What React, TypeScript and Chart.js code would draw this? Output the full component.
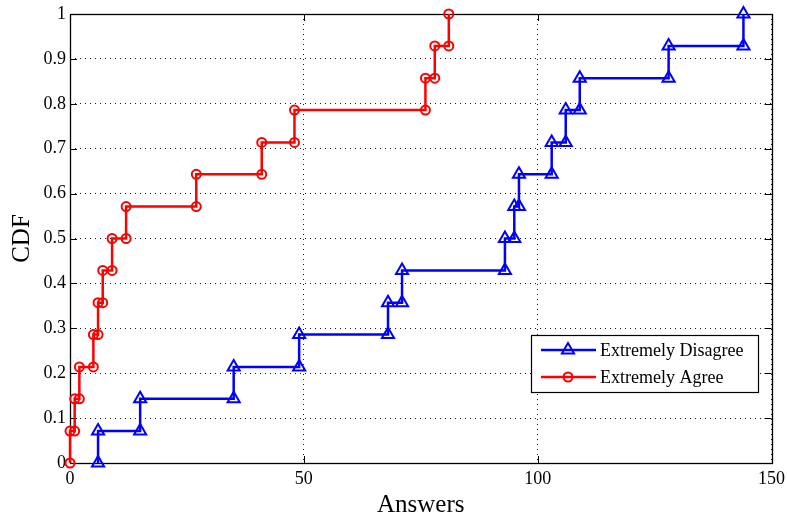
import React, { useEffect, useRef } from 'react';
import { Chart, registerables } from 'chart.js';
import { drawPoint } from 'chart.js/helpers';

Chart.register(...registerables);

// Sorted answer counts (x where each CDF step occurs)
const disagreeAnswers = [6, 15, 35, 49, 68, 71, 93, 95, 96, 103, 106, 109, 128, 144];
const agreeAnswers = [0, 1, 2, 5, 6, 7, 9, 12, 27, 41, 48, 76, 78, 81];
// CDF level reached after each step
const cdfLevels = [0.071, 0.143, 0.214, 0.286, 0.357, 0.429, 0.5, 0.571, 0.643, 0.714, 0.786, 0.857, 0.929, 1];

const seriesNames = ['Extremely Disagree', 'Extremely Agree'];
const xTickValues = [0, 50, 100, 150];
const xTickLabels = ['0', '50', '100', '150'];
const yTickValues = [0, 0.1, 0.2, 0.3, 0.4, 0.5, 0.6, 0.7, 0.8, 0.9, 1];
const yTickLabels = ['0', '0.1', '0.2', '0.3', '0.4', '0.5', '0.6', '0.7', '0.8', '0.9', '1'];

const BLUE = '#0000ff';
const RED = '#ff0000';
const FONT = "'Liberation Serif', 'Times New Roman', serif";

function stairs(xs: number[], levels: number[]) {
  const pts: { x: number; y: number }[] = [];
  xs.forEach((x, i) => {
    pts.push({ x, y: i === 0 ? 0 : levels[i - 1] });
    pts.push({ x, y: levels[i] });
  });
  return pts;
}

const boxPlugin = {
  id: 'matlabBox',
  beforeDatasetsDraw(chart: any) {
    const { ctx, chartArea } = chart;
    const { left, right, top, bottom } = chartArea;
    const xs = chart.scales.x;
    const ys = chart.scales.y;
    ctx.save();
    ctx.strokeStyle = '#000';
    ctx.lineWidth = 1;
    const tl = 7;
    ctx.beginPath();
    xTickValues.forEach((v) => {
      const px = Math.round(xs.getPixelForValue(v)) + 0.5;
      ctx.moveTo(px, bottom);
      ctx.lineTo(px, bottom - tl);
      ctx.moveTo(px, top);
      ctx.lineTo(px, top + tl);
    });
    yTickValues.forEach((v) => {
      const py = Math.round(ys.getPixelForValue(v)) + 0.5;
      ctx.moveTo(left, py);
      ctx.lineTo(left + tl, py);
      ctx.moveTo(right, py);
      ctx.lineTo(right - tl, py);
    });
    ctx.stroke();
    ctx.lineWidth = 1.3;
    ctx.strokeRect(Math.round(left) + 0.5, Math.round(top) + 0.5, Math.round(right - left), Math.round(bottom - top));
    ctx.restore();
  },
};

const legendPlugin = {
  id: 'matlabLegend',
  afterDraw(chart: any) {
    const { ctx } = chart;
    const bx = 531.5, by = 335.5, bw = 227, bh = 57;
    ctx.save();
    ctx.fillStyle = '#fff';
    ctx.fillRect(bx, by, bw, bh);
    ctx.strokeStyle = '#000';
    ctx.lineWidth = 1.2;
    ctx.strokeRect(bx, by, bw, bh);
    chart.data.datasets.forEach((ds: any, i: number) => {
      const cy = 350 + i * 27;
      ctx.strokeStyle = ds.borderColor;
      ctx.lineWidth = ds.borderWidth;
      ctx.beginPath();
      ctx.moveTo(541, cy);
      ctx.lineTo(596, cy);
      ctx.stroke();
      ctx.fillStyle = 'rgba(0,0,0,0)';
      ctx.strokeStyle = ds.borderColor;
      ctx.lineWidth = ds.pointBorderWidth;
      drawPoint(ctx, {
        pointStyle: ds.pointStyle,
        radius: ds.pointRadius,
        borderWidth: ds.pointBorderWidth,
        rotation: 0,
      } as any, 568, cy);
      ctx.fillStyle = '#000';
      ctx.font = `18px ${FONT}`;
      ctx.textBaseline = 'middle';
      ctx.textAlign = 'left';
      ctx.fillText(ds.label, 600, cy + 1);
    });
    ctx.restore();
  },
};

export default function App() {
  const ref = useRef<HTMLCanvasElement>(null);
  useEffect(() => {
    if (!ref.current) return;
    const chart = new Chart(ref.current, {
      type: 'scatter',
      data: {
        datasets: [
          {
            label: seriesNames[0],
            data: stairs(disagreeAnswers, cdfLevels),
            showLine: true,
            borderColor: BLUE,
            borderWidth: 2.5,
            pointStyle: 'triangle',
            pointRadius: 7,
            pointBorderWidth: 2,
            pointBorderColor: BLUE,
            pointBackgroundColor: 'rgba(0,0,0,0)',
            clip: false,
          } as any,
          {
            label: seriesNames[1],
            data: stairs(agreeAnswers, cdfLevels),
            showLine: true,
            borderColor: RED,
            borderWidth: 2.5,
            pointStyle: 'circle',
            pointRadius: 4.5,
            pointBorderWidth: 2,
            pointBorderColor: RED,
            pointBackgroundColor: 'rgba(0,0,0,0)',
            clip: false,
          } as any,
        ],
      },
      options: {
        responsive: false,
        animation: false,
        devicePixelRatio: 1,
        layout: { padding: { left: 0, top: 14, right: 15.5, bottom: 0 } },
        plugins: { legend: { display: false }, tooltip: { enabled: false } },
        scales: {
          x: {
            type: 'linear',
            min: 0,
            max: 150,
            afterBuildTicks: (s: any) => {
              s.ticks = xTickValues.map((v) => ({ value: v }));
            },
            afterFit: (s: any) => {
              s.height = 57;
              s.paddingLeft = 0;
              s.paddingRight = 0;
            },
            ticks: {
              callback: (_v: any, i: number) => xTickLabels[i],
              font: { family: FONT, size: 18 },
              color: '#000',
              padding: 5,
              maxRotation: 0,
              autoSkip: false,
            },
            grid: { color: 'rgba(0,0,0,0.9)', lineWidth: 1, drawTicks: false },
            border: { display: false, dash: [1, 4] },
            title: {
              display: true,
              text: 'Answers',
              font: { family: FONT, size: 25 },
              color: '#000',
              padding: { top: 0, bottom: 0 },
            },
          },
          y: {
            type: 'linear',
            min: 0,
            max: 1,
            afterBuildTicks: (s: any) => {
              s.ticks = yTickValues.map((v) => ({ value: v }));
            },
            afterFit: (s: any) => {
              s.width = 70;
              s.paddingTop = 0;
              s.paddingBottom = 0;
            },
            ticks: {
              callback: (_v: any, i: number) => yTickLabels[i],
              font: { family: FONT, size: 18 },
              color: '#000',
              padding: 4,
              autoSkip: false,
            },
            grid: { color: 'rgba(0,0,0,0.9)', lineWidth: 1, drawTicks: false },
            border: { display: false, dash: [1, 4] },
            title: {
              display: true,
              text: 'CDF',
              font: { family: FONT, size: 25 },
              color: '#000',
              padding: { top: 7, bottom: 0 },
            },
          },
        },
      } as any,
      plugins: [boxPlugin, legendPlugin],
    });
    return () => chart.destroy();
  }, []);
  return (
    <div style={{ position: 'absolute', left: 0, top: 0, width: 787, height: 520, background: '#fff' }}>
      <canvas ref={ref} width={787} height={520} style={{ display: 'block' }} />
    </div>
  );
}
